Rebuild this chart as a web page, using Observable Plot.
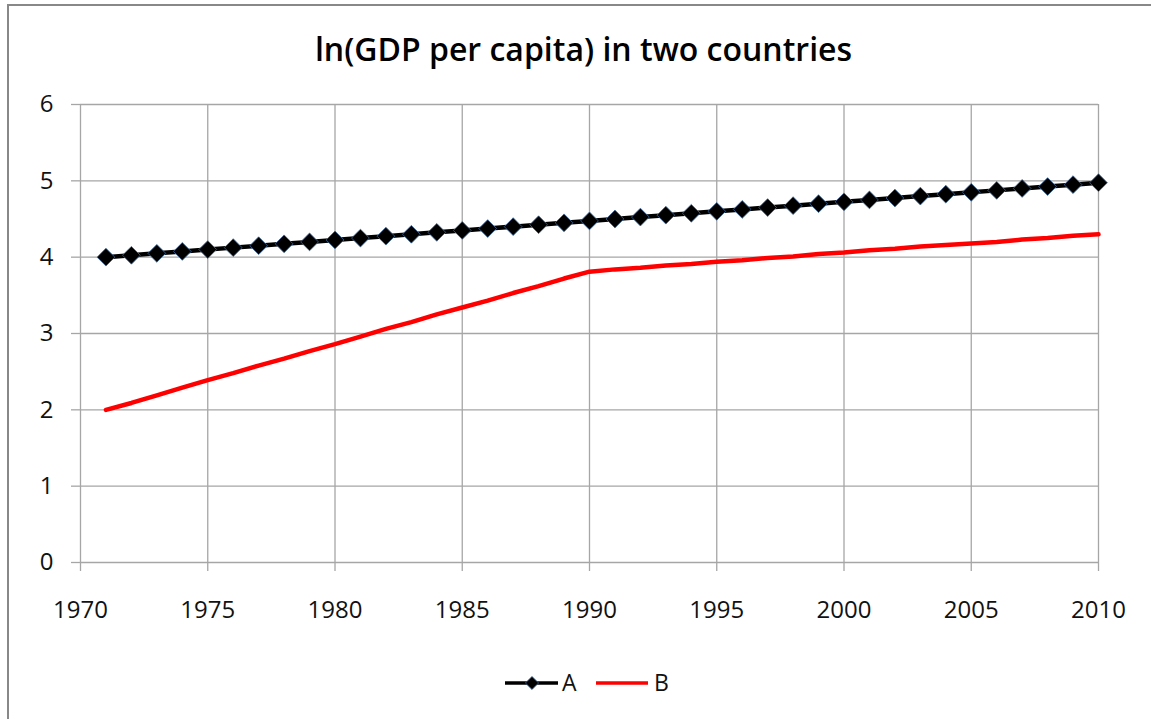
<!DOCTYPE html>
<html>
<head>
<meta charset="utf-8">
<script src="https://cdn.jsdelivr.net/npm/d3@7"></script>
<script src="https://cdn.jsdelivr.net/npm/@observablehq/plot@0.6"></script>
<style>
  html, body { margin: 0; padding: 0; background: #fff; }
  body { width: 1151px; height: 719px; overflow: hidden; position: relative; font-family: "Open Sans", sans-serif; }
  #frame { position: absolute; left: 7px; top: 4px; width: 1160px; height: 740px; border-left: 2px solid #888; border-top: 2px solid #888; box-sizing: border-box; pointer-events: none; }
  #title { position: absolute; left: 8px; top: 0; width: 1151px; height: 80px; text-align: center; line-height: 98px; font-size: 32px; font-weight: 600; color: #000; }
  #chart { position: absolute; left: 0; top: 80px; }
  #legend { position: absolute; left: 0; top: 666px; width: 1151px; height: 36px; }
</style>
</head>
<body>
<div id="title">ln(GDP per capita) in two countries</div>
<div id="chart"></div>
<svg id="legend" width="1151" height="36"></svg>
<div id="frame"></div>
<script>
const years = [1971,1972,1973,1974,1975,1976,1977,1978,1979,1980,1981,1982,1983,1984,1985,1986,1987,1988,1989,1990,1991,1992,1993,1994,1995,1996,1997,1998,1999,2000,2001,2002,2003,2004,2005,2006,2007,2008,2009,2010];
const seriesA = [4.00,4.025,4.05,4.075,4.10,4.125,4.15,4.175,4.20,4.225,4.25,4.275,4.30,4.325,4.35,4.375,4.40,4.425,4.45,4.475,4.50,4.525,4.55,4.575,4.60,4.625,4.65,4.675,4.70,4.725,4.75,4.775,4.80,4.825,4.85,4.875,4.90,4.925,4.95,4.975];
const seriesB = [2.00,2.09,2.19,2.29,2.39,2.48,2.58,2.67,2.77,2.86,2.96,3.06,3.15,3.25,3.34,3.43,3.53,3.62,3.72,3.81,3.84,3.86,3.89,3.91,3.94,3.96,3.99,4.01,4.04,4.06,4.09,4.11,4.14,4.16,4.18,4.20,4.23,4.25,4.28,4.30];
const xTicks = [1970,1975,1980,1985,1990,1995,2000,2005,2010];
const yTicks = [0,1,2,3,4,5,6];
const seriesNames = ["A","B"];

const dataA = years.map((y,i) => ({year: y, value: seriesA[i], series: "A"}));
const dataB = years.map((y,i) => ({year: y, value: seriesB[i], series: "B"}));

const gridColor = "#a6a6a6";
const fontFam = "Open Sans, sans-serif";
const textColor = "#111";

const chart = Plot.plot({
  width: 1151,
  height: 560,
  marginLeft: 80,
  marginRight: 53,
  marginTop: 24,
  marginBottom: 78,
  style: {fontFamily: fontFam, fontSize: "24px", color: textColor, background: "transparent", overflow: "visible"},
  x: {domain: [1970, 2010], label: null},
  y: {domain: [0, 6], label: null},
  marks: [
    Plot.ruleX(xTicks, {stroke: gridColor, strokeWidth: 1.3, strokeOpacity: 1}),
    Plot.ruleY(yTicks, {stroke: gridColor, strokeWidth: 1.3, strokeOpacity: 1}),
    Plot.axisX({ticks: xTicks, tickFormat: d => String(d), tickSize: 9, tickPadding: 29, stroke: gridColor, strokeOpacity: 1, strokeWidth: 1.3, fill: textColor, fontSize: 24}),
    Plot.axisY({ticks: yTicks, tickFormat: d => String(d), tickSize: 9, tickPadding: 18, stroke: gridColor, strokeOpacity: 1, strokeWidth: 1.3, fill: textColor, fontSize: 24}),
    Plot.line(dataB, {x: "year", y: "value", stroke: "#ff0000", strokeWidth: 4.5}),
    Plot.line(dataA, {x: "year", y: "value", stroke: "#000", strokeWidth: 4.5}),
    Plot.dot(dataA, {x: "year", y: "value", symbol: "diamond2", r: 8, fill: "#000", stroke: "#3b6a9e", strokeWidth: 0.8})
  ]
});
document.getElementById("chart").appendChild(chart);

// legend
const lg = d3.select("#legend");
const cy = 17;
lg.append("line").attr("x1", 505).attr("x2", 558).attr("y1", cy).attr("y2", cy).attr("stroke", "#000").attr("stroke-width", 3.5);
lg.append("path").attr("d", d3.symbol(d3.symbolDiamond2, 110)()).attr("transform", `translate(532,${cy})`).attr("fill", "#000").attr("stroke", "#3b6a9e").attr("stroke-width", 0.8);
lg.append("text").attr("x", 562).attr("y", cy).attr("dy", "0.36em").attr("font-family", fontFam).attr("font-size", 23).attr("fill", textColor).text(seriesNames[0]);
lg.append("line").attr("x1", 596).attr("x2", 648).attr("y1", cy).attr("y2", cy).attr("stroke", "#ff0000").attr("stroke-width", 3.5);
lg.append("text").attr("x", 654).attr("y", cy).attr("dy", "0.36em").attr("font-family", fontFam).attr("font-size", 23).attr("fill", textColor).text(seriesNames[1]);
</script>
</body>
</html>
